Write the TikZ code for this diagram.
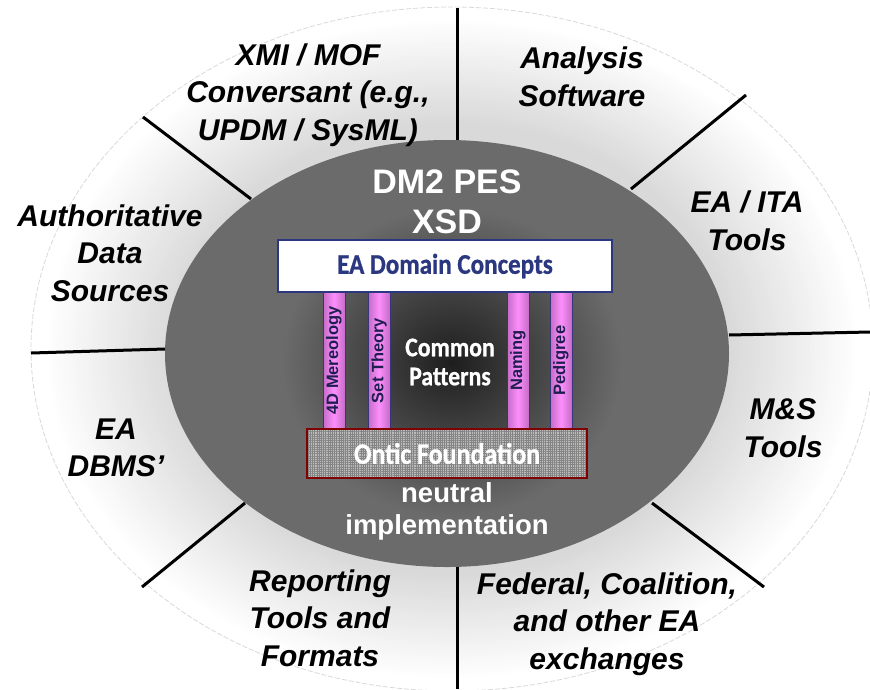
\documentclass[tikz,border=0pt]{standalone}
\usepackage{fontspec}
\setmainfont{Liberation Sans}
\newfontfamily\condensed[FakeStretch=0.88, FakeBold=0.8]{Carlito}
\usetikzlibrary{patterns.meta}

\definecolor{discgray}{RGB}{107,107,107}
\definecolor{discdark}{RGB}{30,30,30}
\definecolor{conceptblue}{RGB}{43,56,128}
\definecolor{onticred}{RGB}{128,0,0}
\definecolor{onticfill}{RGB}{188,188,188}
\definecolor{onticdots}{RGB}{132,132,132}
\definecolor{pillarmauve}{RGB}{196,108,198}
\definecolor{pillarpink}{RGB}{252,142,252}
\definecolor{pillaredge}{RGB}{58,52,120}
\definecolor{pillartext}{RGB}{30,30,80}

\tikzset{
  divider/.style={line width=3pt, black},
  ringlabel/.style={font=\bfseries\itshape\fontsize{30}{37.5}\selectfont, align=center, inner sep=0pt},
  disclabel/.style={text=white, align=center, inner sep=0pt},
  conceptbox/.style={draw=conceptblue, line width=2.5pt, fill=white, text=conceptblue,
    font=\condensed\bfseries\fontsize{28.5}{30}\selectfont, inner sep=0pt},
  onticbox/.style={draw=onticred, line width=2pt, preaction={fill=onticfill},
    pattern={Hatch[distance=2.2pt, line width=0.6pt]}, pattern color=onticdots,
    text=white, font=\condensed\bfseries\fontsize{29.5}{30}\selectfont, inner sep=0pt},
  pillar/.style={rotate=90, minimum width=137pt, minimum height=22pt, inner sep=0pt,
    draw=pillaredge, line width=1pt, left color=pillarmauve, right color=pillarmauve,
    middle color=pillarpink, text=pillartext, font=\bfseries\fontsize{16.5}{16.5}\selectfont}
}

\begin{document}
\begin{tikzpicture}[x=1pt, y=-1pt]
\useasboundingbox (0,0) rectangle (870,689);

% outer ring: white rim darkening slowly towards the disc
\fill[white] (452,349) ellipse [x radius=421, y radius=342];
\foreach \i in {0,...,31}{
  \pgfmathsetmacro\s{0.97-0.01*\i}
  \pgfmathsetmacro\g{1-0.15*\i/31}
  \definecolor{ringstep}{gray}{\g}
  \fill[ringstep] (452,349) ellipse [x radius=421*\s, y radius=342*\s];
}
\draw[black!15, line width=0.8pt, dash pattern=on 5pt off 2pt] (452,349) ellipse [x radius=421, y radius=342];

% dark central disc with its glow
\fill[discgray] (447,353.5) ellipse [x radius=282, y radius=213.5];
\shade[inner color=discdark, outer color=discgray] (452,362) ellipse [x radius=170, y radius=155];

% sector dividers
\draw[divider] (457,8) -- (457,140);
\draw[divider] (457,567) -- (457,689);
\draw[divider] (143,117) -- (251,199);
\draw[divider] (746,95) -- (631,189);
\draw[divider] (31,353) -- (165,349);
\draw[divider] (729,335) -- (870,332);
\draw[divider] (245,503) -- (142,587);
\draw[divider] (652,503) -- (764,587);

% sector labels
\node[ringlabel] (xmi) at (308,95) {XMI / MOF\\Conversant (e.g.,\\UPDM / SysML)};
\node[ringlabel] (analysis) at (582,77) {Analysis\\Software};
\node[ringlabel] (auth) at (110,253) {Authoritative\\Data\\Sources};
\node[ringlabel] (eaita) at (747,221) {EA / ITA\\Tools};
\node[ringlabel] (dbms) at (116,448) {EA\\DBMS’};
\node[ringlabel] (ms) at (783,428) {M\&S\\Tools};
\node[ringlabel] (report) at (320,618) {Reporting\\Tools and\\Formats};
\node[ringlabel] (federal) at (607,624) {Federal, Coalition,\\and other EA\\exchanges};

% disc labels
\node[disclabel, font=\bfseries\fontsize{34}{40}\selectfont] (pes) at (447,202) {DM2 PES\\XSD};
\node[disclabel, font=\bfseries\fontsize{27.5}{32}\selectfont] (neutral) at (447,511) {neutral\\implementation};

% pillars between concepts and foundation
\node[pillar] (mereo) at (334,360.5) {4D Mereology};
\node[pillar] (set) at (379,360.5) {Set Theory};
\node[pillar] (naming) at (518,360.5) {Naming};
\node[pillar] (pedigree) at (561,360.5) {Pedigree};
\node[disclabel, font=\condensed\bfseries\fontsize{27}{29}\selectfont] (common) at (450,362) {Common\\Patterns};

% top and bottom boxes
\node[conceptbox, minimum width=334pt, minimum height=52pt] (concepts) at (445,266) {EA Domain Concepts};
\node[onticbox, minimum width=280pt, minimum height=49pt] (ontic) at (447,453.5) {Ontic Foundation};
\end{tikzpicture}
\end{document}
